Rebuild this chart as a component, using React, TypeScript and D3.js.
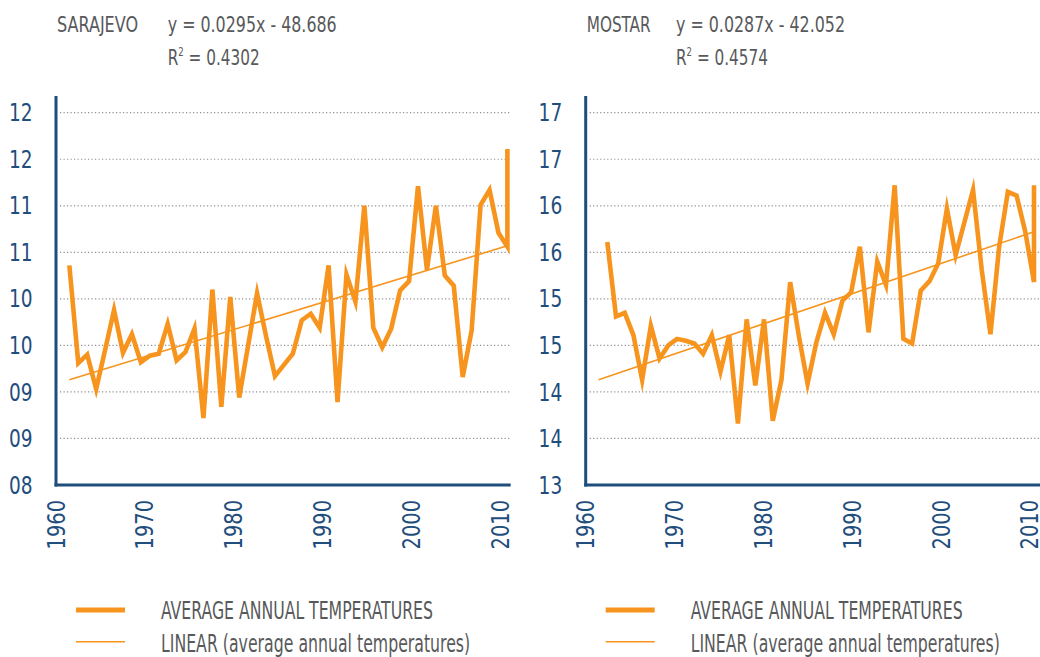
import React, { useLayoutEffect, useRef, useState } from 'react';
import * as d3 from 'd3';

// years of observation (the 2011 value sits on the 2010 edge of the axis)
const years = [
  1961, 1962, 1963, 1964, 1965, 1966, 1967, 1968, 1969, 1970,
  1971, 1972, 1973, 1974, 1975, 1976, 1977, 1978, 1979, 1980,
  1981, 1982, 1983, 1984, 1985, 1986, 1987, 1988, 1989, 1990,
  1991, 1992, 1993, 1994, 1995, 1996, 1997, 1998, 1999, 2000,
  2001, 2002, 2003, 2004, 2005, 2006, 2007, 2008, 2009, 2010,
  2011,
];

const sarajevoTemps = [
  10.36, 9.31, 9.40, 9.03, 9.45, 9.88, 9.42, 9.62, 9.32, 9.39,
  9.41, 9.73, 9.34, 9.43, 9.68, 8.72, 10.10, 8.84, 10.02, 8.94,
  9.50, 10.06, 9.60, 9.17, 9.29, 9.41, 9.77, 9.84, 9.69, 10.36,
  8.89, 10.26, 9.97, 11.00, 9.69, 9.48, 9.68, 10.09, 10.19, 11.21,
  10.31, 11.00, 10.25, 10.14, 9.16, 9.66, 11.01, 11.17, 10.71, 10.56,
  11.61,
];

const mostarTemps = [
  15.61, 14.81, 14.85, 14.61, 14.13, 14.71, 14.36, 14.50, 14.57, 14.55,
  14.52, 14.41, 14.61, 14.22, 14.61, 13.66, 14.78, 14.07, 14.78, 13.69,
  14.13, 15.18, 14.60, 14.09, 14.53, 14.85, 14.62, 14.98, 15.07, 15.56,
  14.64, 15.40, 15.15, 16.22, 14.57, 14.52, 15.09, 15.19, 15.38, 15.97,
  15.47, 15.82, 16.17, 15.31, 14.62, 15.56, 16.15, 16.11, 15.72, 15.18,
  16.22,
];

// linear trend as drawn (start / end of the line)
const sarajevoTrendYears = [1961, 2010];
const sarajevoTrend = [9.13, 10.57];
const mostarTrendYears = [1960, 2010];
const mostarTrend = [14.13, 15.72];

const xTickYears = [1960, 1970, 1980, 1990, 2000, 2010];
const sarajevoTicks = [8, 8.5, 9, 9.5, 10, 10.5, 11, 11.5, 12];
const mostarTicks = [13, 13.5, 14, 14.5, 15, 15.5, 16, 16.5, 17];

const legendLabels = ['AVERAGE ANNUAL TEMPERATURES', 'LINEAR (average annual temperatures)'];

const ORANGE = '#f7941d';
const BLUE = '#1f4e7d';
const GRAY = '#58595b';
const FONT = '"DejaVu Sans Condensed", "DejaVu Sans", sans-serif';

const PLOT_TOP = 96;
const PLOT_BOTTOM = 485;
const GRID_TOP = 112.7;

// text squeezed horizontally to a given width (the original uses a condensed face)
function FitText(props: { x: number; y: number; width: number; size: number; children: React.ReactNode }) {
  const ref = useRef<SVGTextElement>(null);
  const [sx, setSx] = useState(0.8);
  useLayoutEffect(() => {
    const n = ref.current;
    if (n) {
      const len = n.getComputedTextLength();
      if (len > 0) setSx(props.width / len);
    }
  }, [props.width]);
  return (
    <text ref={ref} transform={`translate(${props.x},${props.y}) scale(${sx},1)`}
      fill={GRAY} fontSize={props.size} fontFamily={FONT}>
      {props.children}
    </text>
  );
}

type PanelProps = {
  name: string;
  nameWidth: number;
  equation: string;
  r2: string;
  temps: number[];
  trendYears: number[];
  trend: number[];
  ticks: number[];
  axisX: number;
  dataRange: [number, number];
  gridRight: number;
  eqX: number;
};

function Panel(p: PanelProps) {
  const x = d3.scaleLinear().domain([1960, 2010]).range(p.dataRange).clamp(true);
  const xLabel = d3.scaleLinear().domain([1960, 2010]).range([p.axisX, p.axisX + 444]);
  const y = d3.scaleLinear().domain(d3.extent(p.ticks) as [number, number]).range([PLOT_BOTTOM, GRID_TOP]);

  const pts = years.map((yr, i) => [yr, p.temps[i]] as [number, number]);
  const trendPts = p.trendYears.map((yr, i) => [yr, p.trend[i]] as [number, number]);
  const line = d3.line<[number, number]>().x((d) => x(d[0])).y((d) => y(d[1]));

  const fmt = d3.format('02.0f');

  return (
    <g>
      {/* header */}
      <FitText x={p.axisX + 1} y={32} width={p.nameWidth} size={21.5}>{p.name}</FitText>
      <FitText x={p.eqX} y={32} width={169} size={21.5}>{p.equation}</FitText>
      <FitText x={p.eqX} y={65} width={92} size={21.5}>
        R<tspan fontSize={12} dy={-9}>2</tspan>
        <tspan dy={9}>{' = ' + p.r2}</tspan>
      </FitText>

      {/* grid */}
      {p.ticks.slice(1).map((t) => (
        <line key={t} x1={p.axisX + 4} x2={p.gridRight} y1={y(t)} y2={y(t)}
          stroke="#8f8f8f" strokeWidth={1.2} strokeDasharray="1.2,2.3" />
      ))}

      {/* y labels */}
      {p.ticks.map((t) => (
        <text key={t} transform={`translate(${p.axisX - 23.5},${y(t)}) scale(0.86,1)`} dy="0.36em"
          textAnchor="end" fill={BLUE} fontSize={24} fontFamily={FONT}>
          {fmt(Math.round(t))}
        </text>
      ))}

      {/* x labels */}
      {xTickYears.map((yr) => (
        <text key={yr} transform={`translate(${xLabel(yr)},500) rotate(-90) scale(0.9,1)`} dy="0.36em"
          textAnchor="end" fill={BLUE} fontSize={24} fontFamily={FONT}>
          {yr}
        </text>
      ))}

      {/* series */}
      <path d={line(trendPts) as string} fill="none" stroke={ORANGE} strokeWidth={1.6} />
      <path d={line(pts) as string} fill="none" stroke={ORANGE} strokeWidth={4.6} strokeLinejoin="miter" strokeMiterlimit={6} />

      {/* axes */}
      <line x1={p.axisX} x2={p.axisX} y1={PLOT_TOP} y2={PLOT_BOTTOM + 1.5} stroke={BLUE} strokeWidth={3} />
      <line x1={p.axisX - 1.5} x2={p.gridRight} y1={PLOT_BOTTOM} y2={PLOT_BOTTOM} stroke={BLUE} strokeWidth={3} />

      {/* legend */}
      <line x1={p.axisX + 20} x2={p.axisX + 69} y1={610} y2={610} stroke={ORANGE} strokeWidth={5} />
      <line x1={p.axisX + 20} x2={p.axisX + 69} y1={641.7} y2={641.7} stroke={ORANGE} strokeWidth={1.5} />
      <FitText x={p.axisX + 105} y={619.3} width={272} size={24}>{legendLabels[0]}</FitText>
      <FitText x={p.axisX + 105} y={651.5} width={309} size={24}>{legendLabels[1]}</FitText>
    </g>
  );
}

export default function App() {
  return (
    <svg width={1040} height={657} viewBox="0 0 1040 657"
      style={{ position: 'absolute', left: 0, top: 0, background: '#fff' }}>
      <rect width={1040} height={657} fill="#fff" />
      <Panel name="SARAJEVO" nameWidth={81} equation="y = 0.0295x - 48.686" r2="0.4302"
        temps={sarajevoTemps} trendYears={sarajevoTrendYears} trend={sarajevoTrend}
        ticks={sarajevoTicks} axisX={56} dataRange={[60.4, 507.4]} gridRight={510.7} eqX={167.7} />
      <Panel name="MOSTAR" nameWidth={64} equation="y = 0.0287x - 42.052" r2="0.4574"
        temps={mostarTemps} trendYears={mostarTrendYears} trend={mostarTrend}
        ticks={mostarTicks} axisX={585.7} dataRange={[598.6, 1034]} gridRight={1040} eqX={676} />
    </svg>
  );
}
